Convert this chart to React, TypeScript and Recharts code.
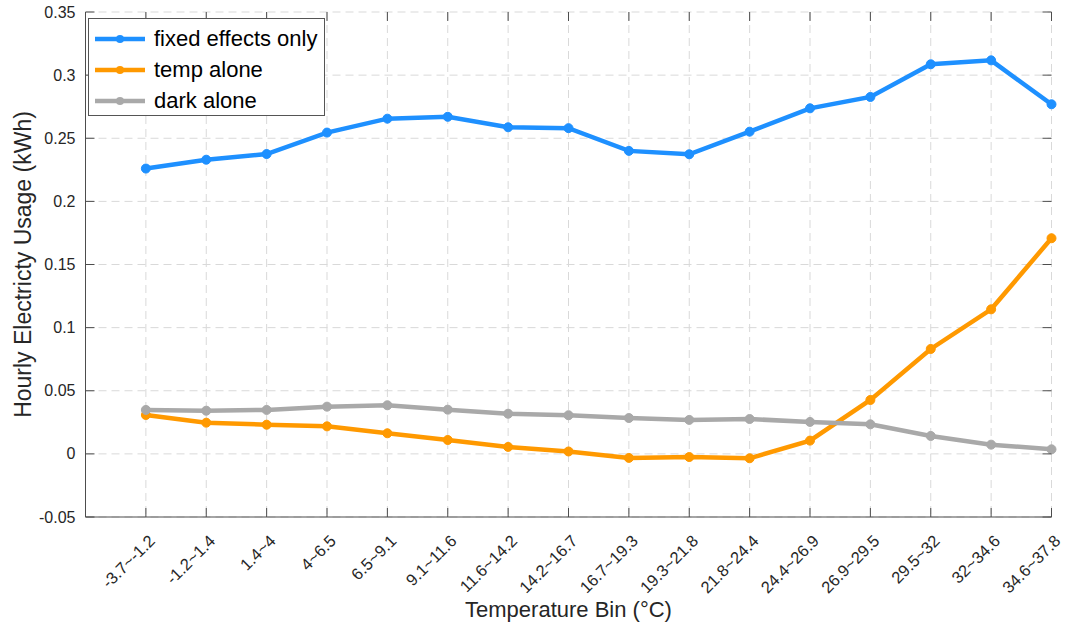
import React from 'react';
import { LineChart, Line, XAxis, YAxis, CartesianGrid } from 'recharts';

const bins = [
  '-3.7~-1.2', '-1.2~1.4', '1.4~4', '4~6.5', '6.5~9.1', '9.1~11.6', '11.6~14.2', '14.2~16.7',
  '16.7~19.3', '19.3~21.8', '21.8~24.4', '24.4~26.9', '26.9~29.5', '29.5~32', '32~34.6', '34.6~37.8',
];
const fixedEffectsOnly = [
  0.226, 0.233, 0.2375, 0.2545, 0.2655, 0.267, 0.2587, 0.258,
  0.240, 0.2373, 0.2552, 0.2737, 0.2827, 0.3086, 0.3117, 0.2769,
];
const tempAlone = [
  0.0308, 0.0247, 0.0231, 0.0218, 0.0163, 0.011, 0.0055, 0.0019,
  -0.0032, -0.0025, -0.0035, 0.0105, 0.0427, 0.0831, 0.1145, 0.1708,
];
const darkAlone = [
  0.0348, 0.0342, 0.0348, 0.0374, 0.0385, 0.035, 0.0318, 0.0306,
  0.0284, 0.0269, 0.0276, 0.0253, 0.0234, 0.0142, 0.0073, 0.0036,
];
const yTicks = [-0.05, 0, 0.05, 0.1, 0.15, 0.2, 0.25, 0.3, 0.35];
const xTicks = bins.map((_, i) => i + 1);

const series = [
  { key: 'fixed', name: 'fixed effects only', color: '#1E90FF' },
  { key: 'temp', name: 'temp alone', color: '#FF9900' },
  { key: 'dark', name: 'dark alone', color: '#A9A9A9' },
];

const data = bins.map((bin, i) => ({
  x: i + 1,
  bin,
  fixed: fixedEffectsOnly[i],
  temp: tempAlone[i],
  dark: darkAlone[i],
}));

const W = 1067;
const H = 629;
const M = { top: 12, right: 15.5, left: 0, bottom: 0 };
const Y_W = 85.5;
const X_H = 112;
const PLOT_W = W - M.left - M.right - Y_W;
const PLOT_H = H - M.top - M.bottom - X_H;
const TICK = 9;
const AXIS = '#4d4d4d';
const TEXT = '#262626';
const FONT = '"Liberation Sans", Arial, Helvetica, sans-serif';

const fmtY = (v: number) => {
  if (v === 0) return '0';
  return String(Number(v.toFixed(2)));
};

const YTick = (props: any) => {
  const { x, y, payload } = props;
  return (
    <g>
      <line x1={x} x2={x + TICK} y1={y} y2={y} stroke={AXIS} />
      <line x1={x + PLOT_W} x2={x + PLOT_W - TICK} y1={y} y2={y} stroke={AXIS} />
      <text x={x - 10} y={y} dy="0.35em" textAnchor="end" fontSize={16} fill={TEXT} fontFamily={FONT}>
        {fmtY(payload.value)}
      </text>
    </g>
  );
};

const XTick = (props: any) => {
  const { x, y, payload } = props;
  const label = bins[payload.value - 1];
  return (
    <g>
      <line x1={x} x2={x} y1={y} y2={y - TICK} stroke={AXIS} />
      <line x1={x} x2={x} y1={y - PLOT_H} y2={y - PLOT_H + TICK} stroke={AXIS} />
      <text
        transform={`translate(${x + 10},${y + 25}) rotate(-45)`}
        textAnchor="end"
        fontSize={16.5}
        fill={TEXT}
        fontFamily={FONT}
      >
        {label}
      </text>
    </g>
  );
};

const LegendBox = () => (
  <div
    style={{
      position: 'absolute',
      left: 88,
      top: 18,
      width: 237,
      height: 98,
      boxSizing: 'border-box',
      border: '1px solid #555',
      background: '#fff',
      fontFamily: FONT,
      fontSize: 22,
      color: '#000',
      paddingTop: 4,
    }}
  >
    {series.map((s) => (
      <div key={s.key} style={{ display: 'flex', alignItems: 'center', height: 31, lineHeight: '31px' }}>
        <svg width={58} height={12} style={{ marginLeft: 5, marginRight: 2 }}>
          <line x1={1} x2={51} y1={6} y2={6} stroke={s.color} strokeWidth={4.5} />
          <circle cx={26} cy={6} r={4} fill={s.color} />
        </svg>
        <span>{s.name}</span>
      </div>
    ))}
  </div>
);

export default function App() {
  return (
    <div style={{ position: 'fixed', left: 0, top: 0, width: W, height: H, background: '#fff' }}>
      <LineChart width={W} height={H} data={data} margin={M}>
        <CartesianGrid stroke="#d9d9d9" strokeDasharray="8 5" horizontal vertical />
        <XAxis
          dataKey="x"
          type="number"
          domain={[0, 16]}
          ticks={xTicks}
          interval={0}
          height={X_H}
          tickSize={0}
          tickMargin={0}
          tickLine={false}
          stroke={AXIS}
          tick={<XTick />}
        />
        <XAxis
          xAxisId="top"
          orientation="top"
          type="number"
          domain={[0, 16]}
          height={0}
          tick={false}
          tickLine={false}
          stroke={AXIS}
        />
        <YAxis
          type="number"
          domain={[-0.05, 0.35]}
          ticks={yTicks}
          interval={0}
          width={Y_W}
          tickSize={0}
          tickMargin={0}
          tickLine={false}
          stroke={AXIS}
          tick={<YTick />}
        />
        <YAxis
          yAxisId="right"
          orientation="right"
          type="number"
          domain={[-0.05, 0.35]}
          width={0}
          tick={false}
          tickLine={false}
          stroke={AXIS}
        />
        {series.map((s) => (
          <Line
            key={s.key}
            dataKey={s.key}
            name={s.name}
            stroke={s.color}
            strokeWidth={4.5}
            dot={{ r: 4.5, fill: s.color, stroke: s.color, strokeWidth: 1 }}
            activeDot={false}
            isAnimationActive={false}
          />
        ))}
        <text
          x={M.left + Y_W + PLOT_W / 2}
          y={617}
          textAnchor="middle"
          fontSize={22}
          fill={TEXT}
          fontFamily={FONT}
        >
          Temperature Bin (°C)
        </text>
        <text
          transform={`translate(31,${M.top + PLOT_H / 2}) rotate(-90)`}
          textAnchor="middle"
          fontSize={23}
          fill={TEXT}
          fontFamily={FONT}
        >
          Hourly Electricty Usage (kWh)
        </text>
      </LineChart>
      <LegendBox />
    </div>
  );
}
